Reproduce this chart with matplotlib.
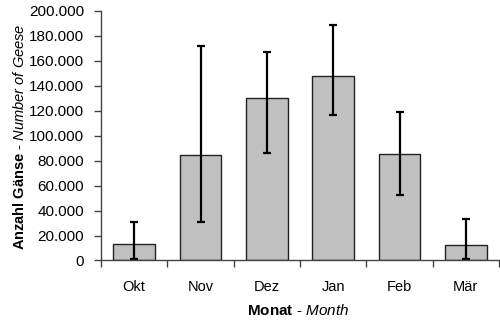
import numpy as np
import matplotlib
matplotlib.use("Agg")
import matplotlib.pyplot as plt
from matplotlib.ticker import FuncFormatter

plt.rcParams['font.family'] = ['Liberation Sans', 'DejaVu Sans']
plt.rcParams['mathtext.fontset'] = 'custom'
plt.rcParams['mathtext.rm'] = 'Liberation Sans'
plt.rcParams['mathtext.bf'] = 'Liberation Sans:bold'
plt.rcParams['mathtext.it'] = 'Liberation Sans:italic'

# Daten
monate = ['Okt', 'Nov', 'Dez', 'Jan', 'Feb', 'Mär']
gaense = [13000, 84500, 130000, 148000, 85500, 12500]
fehler_unten = [12000, 53500, 43500, 31000, 32700, 11500]
fehler_oben = [18000, 87500, 37500, 41000, 33300, 21000]
y_ticks = [0, 20000, 40000, 60000, 80000, 100000, 120000, 140000, 160000, 180000, 200000]

fig = plt.figure(figsize=(5.0, 3.23), dpi=100)
ax = fig.add_axes([0.202, 0.1935, 0.796, 0.7725])

x = np.arange(len(monate))
ax.bar(x, gaense, width=0.63, color='#c0c0c0', edgecolor='#222222', linewidth=1.0)
ax.errorbar(x, gaense, yerr=[fehler_unten, fehler_oben], fmt='none',
            ecolor='black', elinewidth=1.6, capsize=3.2, capthick=1.6)

ax.set_xlim(-0.5, len(monate) - 0.5)
ax.set_ylim(0, 200000)
ax.set_yticks(y_ticks)
ax.yaxis.set_major_formatter(FuncFormatter(lambda v, p: f"{int(v):,}".replace(',', '.')))

# Striche zwischen den Kategorien (wie Excel)
ax.set_xticks(np.arange(len(monate) + 1) - 0.5)
ax.set_xticklabels([])
ax.set_xticks(x, minor=True)
ax.set_xticklabels(monate, minor=True)
ax.tick_params(axis='x', which='major', length=5, width=1, color='#444444', direction='out')
ax.tick_params(axis='x', which='minor', length=0, pad=14, labelsize=10.5)
ax.tick_params(axis='y', length=5, width=1, color='#444444', direction='out', pad=7, labelsize=11)

for s in ['top', 'right']:
    ax.spines[s].set_visible(False)
for s in ['left', 'bottom']:
    ax.spines[s].set_color('#444444')
    ax.spines[s].set_linewidth(1)

fig.text(0.596, 0.04, r'$\bf{Monat}$ - $\it{Month}$', ha='center', va='center', fontsize=11)
fig.text(0.04, 0.577, r'$\bf{Anzahl\ Gänse}$ - $\it{Number\ of\ Geese}$', ha='center', va='center',
         rotation=90, fontsize=10.5)

fig.savefig('out.png', dpi=100)
